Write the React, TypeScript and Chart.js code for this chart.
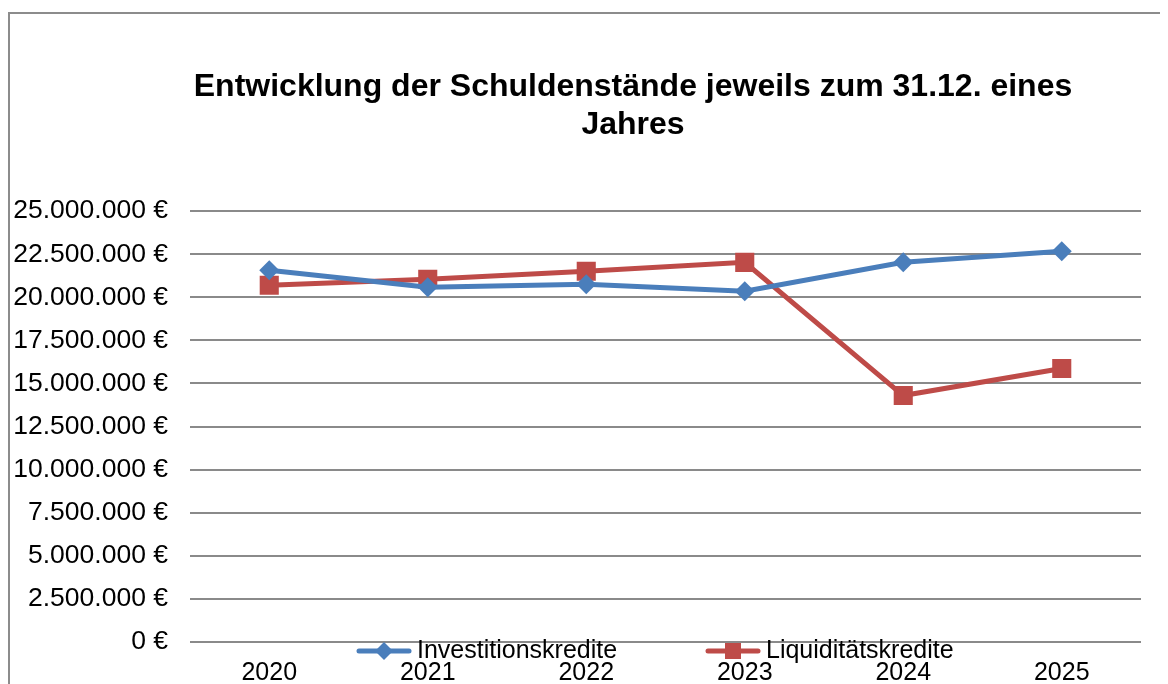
import React, { useEffect, useRef } from "react";
import { Chart, registerables } from "chart.js";

Chart.register(...registerables);

const categories = ["2020", "2021", "2022", "2023", "2024", "2025"];
const investitionskredite = [21570000, 20580000, 20760000, 20350000, 22030000, 22670000];
const liquiditaetskredite = [20700000, 21050000, 21510000, 22030000, 14300000, 15870000];
const seriesLabels = ["Investitionskredite", "Liquiditätskredite"];
const titleLines = ["Entwicklung der Schuldenstände jeweils zum 31.12. eines", "Jahres"];
const yMin = 0;
const yMax = 25000000;
const yStep = 2500000;

const FONT = "'Liberation Sans', Arial, sans-serif";
const BLUE = "#4a7ebb";
const RED = "#be4b48";

const formatEuro = (v: number) =>
  String(Math.round(v)).replace(/\B(?=(\d{3})+(?!\d))/g, ".") + " €";

const framePlugin = {
  id: "frame",
  beforeDraw(chart: any) {
    const ctx = chart.ctx;
    ctx.save();
    ctx.fillStyle = "#ffffff";
    ctx.fillRect(0, 0, chart.width, chart.height);
    ctx.strokeStyle = "#8c8c8c";
    ctx.lineWidth = 2;
    ctx.beginPath();
    ctx.moveTo(1, chart.height);
    ctx.lineTo(1, 5);
    ctx.lineTo(chart.width, 5);
    ctx.stroke();
    ctx.restore();
  },
};

const legendPlugin = {
  id: "excelLegend",
  afterDraw(chart: any) {
    const ctx = chart.ctx;
    const starts = [348, 697];
    const y = 643;
    chart.data.datasets.forEach((ds: any, i: number) => {
      const x0 = starts[i];
      ctx.save();
      ctx.strokeStyle = ds.borderColor;
      ctx.lineWidth = 5;
      ctx.lineCap = "round";
      ctx.beginPath();
      ctx.moveTo(x0 + 3, y);
      ctx.lineTo(x0 + 53, y);
      ctx.stroke();
      ctx.fillStyle = ds.backgroundColor;
      const cx = x0 + 28;
      if (ds.pointStyle === "rectRot") {
        const r = 9;
        ctx.beginPath();
        ctx.moveTo(cx - r, y);
        ctx.lineTo(cx, y - r);
        ctx.lineTo(cx + r, y);
        ctx.lineTo(cx, y + r);
        ctx.closePath();
        ctx.fill();
      } else {
        ctx.fillRect(cx - 8, y - 8, 16, 16);
      }
      ctx.fillStyle = "#000000";
      ctx.font = `25px ${FONT}`;
      ctx.textBaseline = "alphabetic";
      ctx.textAlign = "left";
      ctx.fillText(ds.label, x0 + 61, 650);
      ctx.restore();
    });
  },
};

export default function App() {
  const canvasRef = useRef<HTMLCanvasElement | null>(null);

  useEffect(() => {
    document.documentElement.style.overflow = "hidden";
    const canvas = canvasRef.current;
    if (!canvas) return;
    const chart = new Chart(canvas, {
      type: "line",
      data: {
        labels: categories,
        datasets: [
          {
            label: seriesLabels[0],
            data: investitionskredite,
            borderColor: BLUE,
            backgroundColor: BLUE,
            borderWidth: 5,
            pointStyle: "rectRot",
            pointRadius: 10,
            pointBorderWidth: 0,
            pointBackgroundColor: BLUE,
            tension: 0,
          },
          {
            label: seriesLabels[1],
            data: liquiditaetskredite,
            borderColor: RED,
            backgroundColor: RED,
            borderWidth: 5,
            pointStyle: "rect",
            pointRadius: 13.5,
            pointBorderWidth: 0,
            pointBackgroundColor: RED,
            tension: 0,
          },
        ],
      },
      options: {
        animation: false,
        responsive: false,
        devicePixelRatio: 1,
        layout: { padding: { left: 0, right: 0, top: 0, bottom: 0 } },
        plugins: {
          legend: { display: false },
          tooltip: { enabled: false },
          title: {
            display: true,
            text: titleLines,
            color: "#000000",
            font: { family: FONT, size: 32, weight: "bold", lineHeight: 1.19 },
            padding: { top: 60, bottom: 67 },
          },
        },
        scales: {
          x: {
            type: "category",
            offset: true,
            grid: { display: false, drawTicks: false, tickLength: 0 },
            border: { display: false },
            ticks: {
              color: "#000000",
              font: { family: FONT, size: 25 },
              padding: 16,
              maxRotation: 0,
              autoSkip: false,
            },
            afterFit: (scale: any) => {
              scale.height = 66;
            },
          },
          y: {
            min: yMin,
            max: yMax,
            grid: { color: "#8a8a8a", lineWidth: 2, drawTicks: false, tickLength: 0 },
            border: { display: false },
            ticks: {
              stepSize: yStep,
              color: "#000000",
              font: { family: FONT, size: 26.5 },
              padding: 22,
              callback: (v: any) => formatEuro(Number(v)),
            },
            afterFit: (scale: any) => {
              scale.width = 182;
            },
          },
          ySpacer: {
            type: "linear",
            position: "right",
            display: true,
            min: yMin,
            max: yMax,
            grid: { display: false, drawTicks: false },
            border: { display: false },
            ticks: { display: false },
            afterFit: (scale: any) => {
              scale.width = 117;
            },
          },
        },
      } as any,
      plugins: [framePlugin, legendPlugin],
    });
    return () => chart.destroy();
  }, []);

  return (
    <div style={{ width: 1160, height: 676, overflow: "hidden", position: "relative" }}>
      <canvas ref={canvasRef} width={1250} height={700} style={{ display: "block" }} />
    </div>
  );
}
